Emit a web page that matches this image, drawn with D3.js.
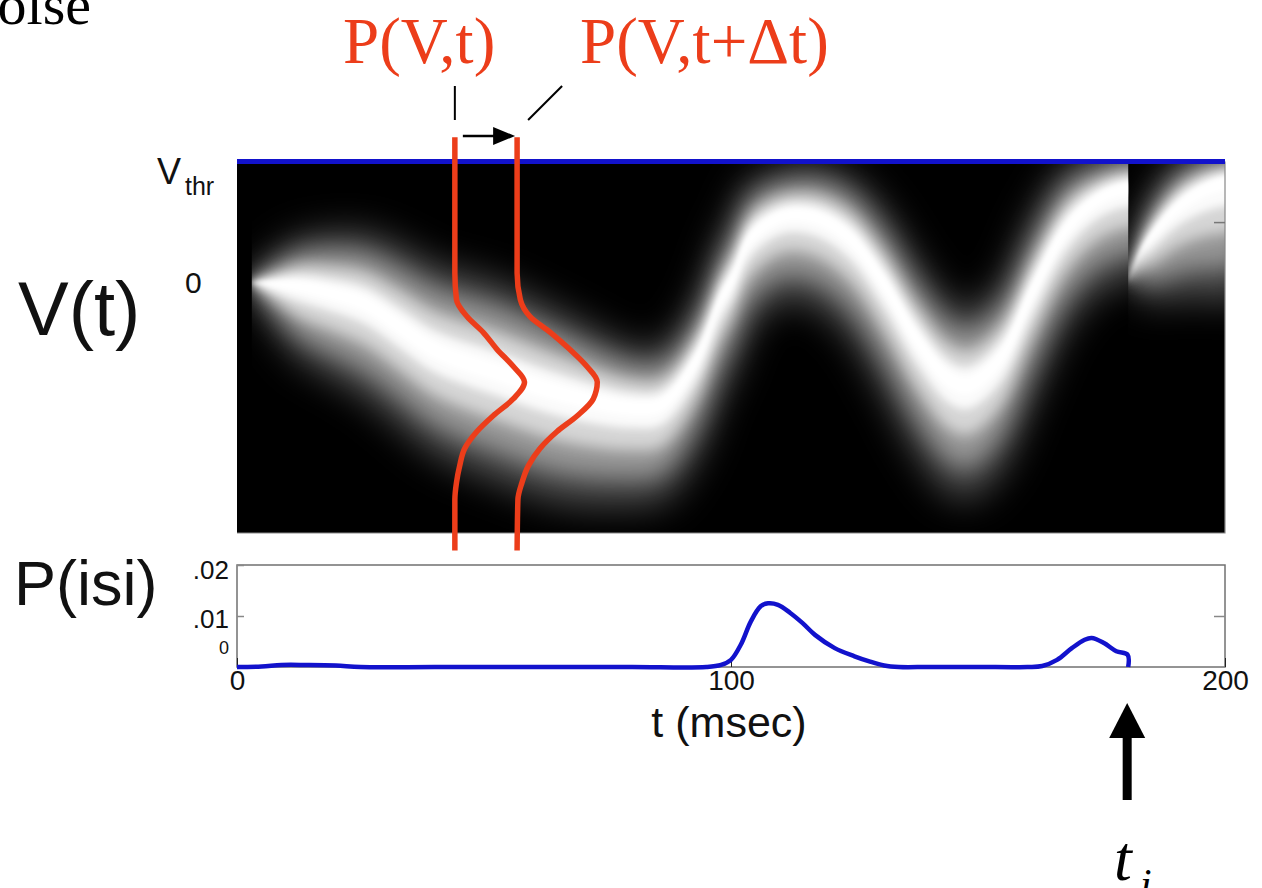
<!DOCTYPE html>
<html>
<head>
<meta charset="utf-8">
<script src="https://cdn.jsdelivr.net/npm/d3@7"></script>
<style>
    html, body { margin: 0; padding: 0; background: #fff; }
    svg { display: block; }
</style>
</head>
<body>
<svg id="chart" width="1262" height="888"></svg>
<script>
// mean V(t) of the density band and its visible spread above / below (V in units of Vthr)
var bandT = [3, 12, 19, 26, 33, 40, 53, 66, 80, 86, 93, 97.8, 100.4, 104, 110.5, 117, 124, 131, 137.5, 144, 148, 154.5, 161, 168, 174.5, 180.4];
var bandMean = [0, -0.02, -0.08, -0.17, -0.36, -0.55, -0.74, -0.91, -1.02, -0.99, -0.62, -0.14, 0.05, 0.38, 0.56, 0.55, 0.38, 0, -0.45, -0.78, -0.83, -0.61, -0.06, 0.46, 0.71, 0.8];
var bandUp = [0.04, 0.37, 0.49, 0.58, 0.66, 0.7, 0.74, 0.66, 0.49, 0.45, 0.45, 0.47, 0.49, 0.45, 0.37, 0.41, 0.49, 0.58, 0.62, 0.62, 0.6, 0.58, 0.58, 0.49, 0.33, 0.29];
var bandDown = [0.04, 0.58, 0.7, 0.78, 0.82, 0.86, 0.91, 0.91, 0.82, 0.82, 0.82, 0.8, 0.78, 0.74, 0.7, 0.74, 0.82, 0.91, 0.95, 0.96, 0.96, 0.95, 0.91, 0.82, 0.78, 0.78];

// after the spike the density restarts from V = 0
var resetT = [180.4, 183, 185, 190, 195, 200];
var resetMean = [0, 0.25, 0.38, 0.62, 0.77, 0.85];
var resetUp = [0.02, 0.2, 0.3, 0.35, 0.3, 0.25];
var resetDown = [0.02, 0.35, 0.55, 0.75, 0.9, 1.0];

var spikeT = 180.4;

// P(V,t) snapshots at two times
var pvTimes = [44.1, 56.7];
var pvV = [1.2, 0.08, -0.14, -0.28, -0.41, -0.55, -0.69, -0.82, -0.96, -1.1, -1.23, -1.37, -1.51, -1.65, -1.79, -2.21];
var pvDens1 = [0, 0, 0.02, 0.15, 0.35, 0.52, 0.72, 0.86, 0.72, 0.47, 0.27, 0.12, 0.06, 0.02, 0, 0];
var pvDens2 = [0, 0, 0.04, 0.16, 0.41, 0.65, 0.86, 0.99, 0.94, 0.74, 0.49, 0.28, 0.14, 0.06, 0.01, 0];

// interspike interval density
var isiT = [0, 5, 9, 14, 20, 25, 40, 60, 80, 95, 98, 100, 102, 104, 106, 107.5, 109.5, 112, 114.5, 117, 121, 125, 128, 131, 134, 140, 150, 160, 163, 166, 169, 171.5, 173, 175.5, 178, 180.3, 180.4];
var isiP = [0, 0.0001, 0.0004, 0.0004, 0.0003, 0, 0, 0, 0, 0, 0.0004, 0.0014, 0.0044, 0.0089, 0.0119, 0.0125, 0.0122, 0.0106, 0.0086, 0.0063, 0.0037, 0.0021, 0.0011, 0.0003, 0, 0, 0, 0, 0.0002, 0.0014, 0.0037, 0.0053, 0.0057, 0.0047, 0.0031, 0.0024, 0];

var xTicks = [0, 100, 200];
var isiTicks = [0, 0.01, 0.02];
var isiTickLabels = ['0', '.01', '.02'];

var SANS = '"Liberation Sans", Arial, sans-serif';
var SERIF = '"Liberation Serif", "Times New Roman", serif';
var RED = '#ec3d1a';
var BLUE = '#1212cc';

var svg = d3.select('#chart');
svg.append('rect').attr('width', 1262).attr('height', 888).attr('fill', '#fff');

var x = d3.scaleLinear().domain([0, 200]).range([237, 1225]);
var v = d3.scaleLinear().domain([-2.066, 1]).range([533, 161.5]);
var p = d3.scaleLinear().domain([0, 0.02]).range([667, 565]);
var dens = d3.scaleLinear().domain([0, 1]).range([0, 81]);

var defs = svg.append('defs');

// glow layers: fraction of the spread, opacity, blur
var layers = [
    { frac: 1.0, opacity: 0.3, blur: 18 },
    { frac: 0.72, opacity: 0.42, blur: 12 },
    { frac: 0.44, opacity: 0.6, blur: 7 },
    { frac: 0.22, opacity: 0.9, blur: 4 },
    { frac: 0.09, opacity: 1, blur: 2 }
];

layers.forEach(function (l, i) {
    defs.append('filter')
        .attr('id', 'blur' + i)
        .attr('x', '-10%').attr('y', '-40%')
        .attr('width', '120%').attr('height', '180%')
        .append('feGaussianBlur')
        .attr('stdDeviation', l.blur);
});

defs.append('clipPath').attr('id', 'clipBand1')
    .append('rect')
    .attr('x', x(bandT[0])).attr('y', v(1))
    .attr('width', x(spikeT) - x(bandT[0])).attr('height', v.range()[0] - v(1));

defs.append('clipPath').attr('id', 'clipBand2')
    .append('rect')
    .attr('x', x(spikeT)).attr('y', v(1))
    .attr('width', x(200) - x(spikeT)).attr('height', v.range()[0] - v(1));

function rows(ts, ms, ups, downs) {
    return ts.map(function (t, i) {
        return { t: t, m: ms[i], up: ups[i], down: downs[i] };
    });
}

function bandArea(frac) {
    return d3.area()
        .x(function (d) { return x(d.t); })
        .y0(function (d) { return v(d.m - d.down * frac); })
        .y1(function (d) { return v(d.m + d.up * frac); })
        .curve(d3.curveCatmullRom.alpha(0.5));
}

// 背景
svg.append('rect')
    .attr('x', x(0)).attr('y', v(1))
    .attr('width', x(200) - x(0)).attr('height', v.range()[0] - v(1))
    .attr('fill', '#000');

var band1 = rows(bandT, bandMean, bandUp, bandDown);
// pad past the clip edge so the blur does not fade at the reset
var last = band1[band1.length - 1];
band1.push({ t: last.t + 5, m: last.m, up: last.up, down: last.down });

var band2 = rows(resetT, resetMean, resetUp, resetDown);
var lastR = band2[band2.length - 1];
band2.push({ t: lastR.t + 5, m: lastR.m, up: lastR.up, down: lastR.down });

[[band1, 'clipBand1'], [band2, 'clipBand2']].forEach(function (b) {
    var g = svg.append('g').attr('clip-path', 'url(#' + b[1] + ')');
    layers.forEach(function (l, i) {
        g.append('path')
            .attr('d', bandArea(l.frac)(b[0]))
            .attr('fill', '#fff')
            .attr('fill-opacity', l.opacity)
            .attr('filter', 'url(#blur' + i + ')');
    });
});

// heatmap frame
svg.append('path')
    .attr('d', 'M' + x(0) + ',' + v.range()[0] + 'H' + x(200) + 'V' + v(1))
    .attr('stroke', '#888').attr('stroke-width', 1.2).attr('fill', 'none');

svg.append('g')
    .attr('transform', 'translate(' + x(200) + ',0)')
    .call(d3.axisRight(v).tickValues([0.5]).tickSize(-11).tickFormat(''))
    .call(function (g) {
        g.select('.domain').remove();
        g.selectAll('line').attr('stroke', '#777').attr('stroke-width', 1.5);
    });

// threshold
svg.append('line')
    .attr('x1', x(0)).attr('x2', x(200))
    .attr('y1', v(1)).attr('y2', v(1))
    .attr('stroke', BLUE).attr('stroke-width', 5);

// P(V,t) curves
var pvLine = function (t0, ds) {
    return d3.line()
        .x(function (d, i) { return x(t0) + dens(ds[i]); })
        .y(function (d) { return v(d); })
        .curve(d3.curveMonotoneY)(pvV);
};

[pvDens1, pvDens2].forEach(function (ds, i) {
    svg.append('path')
        .attr('d', pvLine(pvTimes[i], ds))
        .attr('fill', 'none')
        .attr('stroke', RED)
        .attr('stroke-width', 5.5);
});

// labels for the curves
svg.append('text').text('P(V,t)')
    .attr('x', 343).attr('y', 63)
    .attr('font-family', SERIF).attr('font-size', 65).attr('fill', RED);

svg.append('text').text('P(V,t+\u0394t)')
    .attr('x', 580).attr('y', 63)
    .attr('font-family', SERIF).attr('font-size', 65).attr('fill', RED);

svg.append('line')
    .attr('x1', x(pvTimes[0])).attr('x2', x(pvTimes[0]))
    .attr('y1', 86).attr('y2', 120)
    .attr('stroke', '#000').attr('stroke-width', 2);

svg.append('line')
    .attr('x1', x(pvTimes[1]) + 11).attr('x2', x(pvTimes[1]) + 45)
    .attr('y1', 120).attr('y2', 86)
    .attr('stroke', '#000').attr('stroke-width', 2);

svg.append('line')
    .attr('x1', x(pvTimes[0]) + 8).attr('x2', x(pvTimes[1]) - 22)
    .attr('y1', 136).attr('y2', 136)
    .attr('stroke', '#000').attr('stroke-width', 2.5);

svg.append('path')
    .attr('d', 'M' + (x(pvTimes[1]) - 24) + ',127L' + (x(pvTimes[1]) - 2) + ',136L' + (x(pvTimes[1]) - 24) + ',145Z')
    .attr('fill', '#000');

// left labels
svg.append('text').text('V')
    .attr('x', 157).attr('y', 184)
    .attr('font-family', SANS).attr('font-size', 36).attr('fill', '#111');
svg.append('text').text('thr')
    .attr('x', 185).attr('y', 195)
    .attr('font-family', SANS).attr('font-size', 25).attr('fill', '#111');
svg.append('text').text('0')
    .attr('x', 185).attr('y', v(0) + 10)
    .attr('font-family', SANS).attr('font-size', 30).attr('fill', '#111');

svg.append('text').text('V(t)')
    .attr('x', 18).attr('y', 335)
    .attr('font-family', SANS).attr('font-size', 76).attr('fill', '#111');

svg.append('text').text('P(isi)')
    .attr('x', 14).attr('y', 605)
    .attr('font-family', SANS).attr('font-size', 63).attr('fill', '#111');

// P(isi) panel
svg.append('rect')
    .attr('x', x(0)).attr('y', p(0.02))
    .attr('width', x(200) - x(0)).attr('height', p(0) - p(0.02))
    .attr('fill', '#fff').attr('stroke', '#707070').attr('stroke-width', 1.5);

var xAxis = svg.append('g')
    .attr('transform', 'translate(0,' + p(0) + ')')
    .call(d3.axisBottom(x).tickValues(xTicks).tickSize(-9).tickPadding(3).tickFormat(d3.format('d')));
xAxis.select('.domain').remove();
xAxis.selectAll('line').attr('stroke', '#222').attr('stroke-width', 1);
xAxis.selectAll('text')
    .attr('font-family', SANS).attr('font-size', 28).attr('fill', '#111');

var labelShift = [-14, 11, 13];
var labelSize = [18, 26, 26];
var yAxis = svg.append('g')
    .attr('transform', 'translate(' + x(0) + ',0)')
    .call(d3.axisLeft(p).tickValues(isiTicks).tickSize(-7).tickPadding(8)
        .tickFormat(function (d, i) { return isiTickLabels[i]; }));
yAxis.select('.domain').remove();
yAxis.selectAll('line').attr('stroke', '#888').attr('stroke-width', 1.5);
yAxis.selectAll('text')
    .attr('font-family', SANS).attr('fill', '#111')
    .attr('dy', null)
    .attr('y', function (d, i) { return labelShift[i]; })
    .attr('font-size', function (d, i) { return labelSize[i]; });

svg.append('g')
    .attr('transform', 'translate(' + x(200) + ',0)')
    .call(d3.axisRight(p).tickValues([0.01]).tickSize(-11).tickFormat(''))
    .call(function (g) {
        g.select('.domain').remove();
        g.selectAll('line').attr('stroke', '#888').attr('stroke-width', 1.5);
    });

svg.append('path')
    .datum(isiT)
    .attr('d', d3.line()
        .x(function (d) { return x(d); })
        .y(function (d, i) { return p(isiP[i]); })
        .curve(d3.curveCatmullRom.alpha(0.5)))
    .attr('fill', 'none')
    .attr('stroke', BLUE)
    .attr('stroke-width', 4.5);

svg.append('text').text('t (msec)')
    .attr('x', 729).attr('y', 737)
    .attr('text-anchor', 'middle')
    .attr('font-family', SANS).attr('font-size', 43).attr('fill', '#111');

// spike time arrow
var sx = x(spikeT) - 1;
svg.append('rect')
    .attr('x', sx - 4.5).attr('y', 736)
    .attr('width', 9).attr('height', 64)
    .attr('fill', '#000');
svg.append('path')
    .attr('d', 'M' + (sx - 18) + ',738L' + sx + ',703L' + (sx + 18) + ',738Z')
    .attr('fill', '#000');

svg.append('text').text('t')
    .attr('x', 1114).attr('y', 880)
    .attr('font-family', SERIF).attr('font-style', 'italic')
    .attr('font-size', 64).attr('fill', '#000');
svg.append('text').text('i')
    .attr('x', 1140).attr('y', 898)
    .attr('font-family', SERIF).attr('font-style', 'italic')
    .attr('font-size', 42).attr('fill', '#000');

// slide title remnant
svg.append('text').text('noise')
    .attr('x', 91).attr('y', 24)
    .attr('text-anchor', 'end')
    .attr('font-family', SERIF).attr('font-size', 58).attr('fill', '#000');
</script>
</body>
</html>
